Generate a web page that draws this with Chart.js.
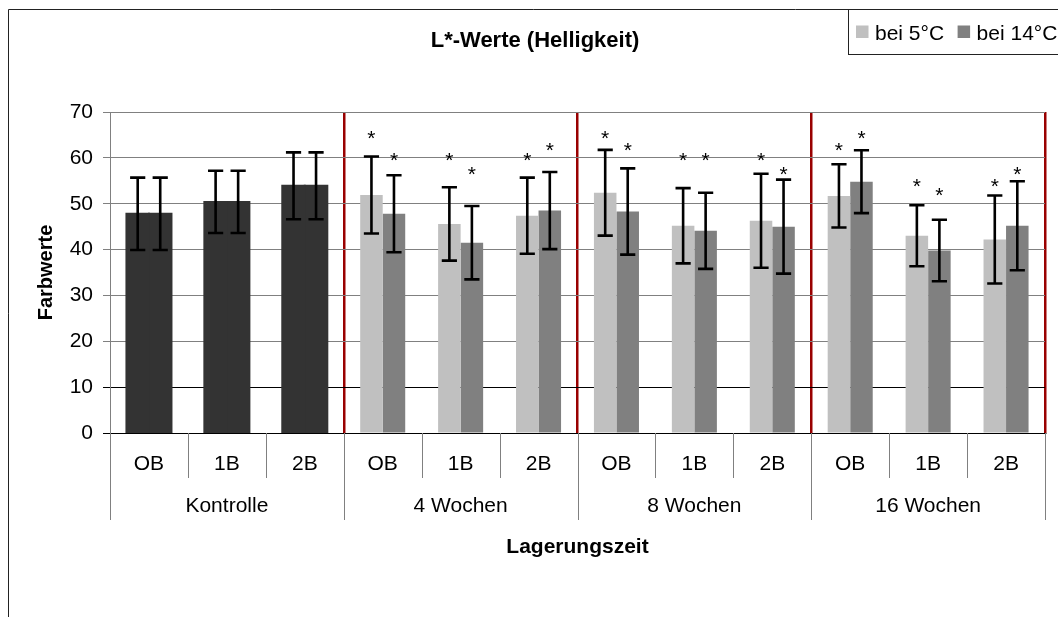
<!DOCTYPE html>
<html>
<head>
<meta charset="utf-8">
<title>L*-Werte (Helligkeit)</title>
<script src="https://cdn.jsdelivr.net/npm/chart.js@4.4.1/dist/chart.umd.min.js"></script>
<style>
  html, body { margin: 0; padding: 0; background: #fff; }
  #wrap { width: 1058px; height: 617px; position: relative; }
</style>
</head>
<body>
<div id="wrap"><canvas id="chart"></canvas></div>
<script>
// Treatments per storage period and the storage periods themselves
const categories = ['OB', '1B', '2B', 'OB', '1B', '2B', 'OB', '1B', '2B', 'OB', '1B', '2B'];
const groups = ['Kontrolle', '4 Wochen', '8 Wochen', '16 Wochen'];
const seriesNames = ['bei 5°C', 'bei 14°C'];

// Mean L* values
const values5  = [47.8, 50.4, 53.9, 51.9, 45.6, 47.4, 52.4, 45.2, 46.3, 51.7, 43.0, 42.2];
const values14 = [47.8, 50.4, 53.9, 47.8, 41.5, 48.5, 48.3, 44.1, 45.0, 54.8, 39.8, 45.2];

// Standard deviations (error bars)
const errors5  = [7.9, 6.8, 7.3, 8.4, 8.0, 8.3, 9.35, 8.2, 10.25, 6.9, 6.65, 9.6];
const errors14 = [7.9, 6.8, 7.3, 8.4, 8.0, 8.4, 9.4, 8.3, 10.25, 6.85, 6.7, 9.7];

// Height (in L* units) of the significance asterisks; null = none
const stars5  = [null, null, null, 65.4, 60.7, 60.7, 65.4, 60.7, 60.7, 62.7, 54.9, 54.9];
const stars14 = [null, null, null, 60.7, 57.6, 62.7, 62.7, 60.7, 57.6, 65.4, 52.9, 57.6];

const yTicks = [0, 10, 20, 30, 40, 50, 60, 70];

const FONT = "'Liberation Sans', Arial, sans-serif";
const COLOR_5 = '#C0C0C0';
const COLOR_14 = '#808080';
const COLOR_CONTROL = '#333333';
const GROUP_SIZE = 3;

Chart.defaults.font.family = FONT;
Chart.defaults.color = '#000';

const isControl = (i) => Math.floor(i / GROUP_SIZE) === 0;
const barColors = (base) => categories.map((_, i) => (isControl(i) ? COLOR_CONTROL : base));

// Outer frame of the chart object
const framePlugin = {
  id: 'frame',
  beforeDraw(chart) {
    const { ctx, width, height } = chart;
    ctx.save();
    ctx.fillStyle = '#fff';
    ctx.fillRect(0, 0, width, height);
    ctx.strokeStyle = '#222';
    ctx.lineWidth = 1;
    ctx.beginPath();
    ctx.moveTo(8.5, height);
    ctx.lineTo(8.5, 9.5);
    ctx.lineTo(width, 9.5);
    ctx.stroke();
    ctx.restore();
  }
};

// Error bars and significance asterisks
const errorBarPlugin = {
  id: 'errorBars',
  afterDatasetsDraw(chart) {
    const { ctx } = chart;
    const y = chart.scales.y;
    const errs = [errors5, errors14];
    const stars = [stars5, stars14];
    const cap = 7.6;
    ctx.save();
    chart.data.datasets.forEach((ds, d) => {
      const meta = chart.getDatasetMeta(d);
      meta.data.forEach((bar, i) => {
        const v = ds.data[i];
        const e = errs[d][i];
        const top = y.getPixelForValue(v + e);
        const bot = y.getPixelForValue(v - e);
        ctx.strokeStyle = '#000';
        ctx.lineWidth = 2.6;
        ctx.beginPath();
        ctx.moveTo(bar.x, top); ctx.lineTo(bar.x, bot);
        ctx.moveTo(bar.x - cap, top); ctx.lineTo(bar.x + cap, top);
        ctx.moveTo(bar.x - cap, bot); ctx.lineTo(bar.x + cap, bot);
        ctx.stroke();
        const s = stars[d][i];
        if (s !== null) {
          ctx.fillStyle = '#000';
          ctx.font = '21px ' + FONT;
          ctx.textAlign = 'center';
          ctx.textBaseline = 'alphabetic';
          ctx.fillText('*', bar.x, y.getPixelForValue(s) + 12);
        }
      });
    });
    ctx.restore();
  }
};

// Two-level category axis, chart title and legend
const decorPlugin = {
  id: 'decor',
  afterDraw(chart) {
    const { ctx, chartArea } = chart;
    const x = chart.scales.x;
    const n = categories.length;
    const base = chartArea.bottom;
    const boundary = (k) => {
      if (k === 0) return chartArea.left;
      if (k === n) return chartArea.right;
      return (x.getPixelForValue(k - 1) + x.getPixelForValue(k)) / 2;
    };
    ctx.save();

    // separators below the axis
    ctx.strokeStyle = '#808080';
    ctx.lineWidth = 1;
    ctx.beginPath();
    for (let k = 0; k <= n; k++) {
      const bx = Math.round(boundary(k)) + 0.5;
      const len = k % GROUP_SIZE === 0 ? 87 : 45;
      ctx.moveTo(bx, base);
      ctx.lineTo(bx, base + len);
    }
    ctx.stroke();

    // category and group labels
    ctx.fillStyle = '#000';
    ctx.textAlign = 'center';
    ctx.textBaseline = 'middle';
    ctx.font = '21px ' + FONT;
    categories.forEach((c, i) => ctx.fillText(c, x.getPixelForValue(i), base + 31));
    groups.forEach((g, gi) => {
      const cx = (boundary(gi * GROUP_SIZE) + boundary((gi + 1) * GROUP_SIZE)) / 2;
      ctx.fillText(g, cx, base + 73);
    });

    // title
    ctx.font = 'bold 22px ' + FONT;
    ctx.fillText('L*-Werte (Helligkeit)', 535, 40.6);

    // legend
    ctx.strokeStyle = '#222';
    ctx.lineWidth = 1;
    ctx.strokeRect(848.5, 9.5, 240, 45);
    ctx.font = '21px ' + FONT;
    ctx.textAlign = 'left';
    ctx.textBaseline = 'alphabetic';
    const legendColors = [COLOR_5, COLOR_14];
    let lx = 856;
    seriesNames.forEach((name, i) => {
      ctx.fillStyle = legendColors[i];
      ctx.fillRect(lx, 25.5, 12.5, 12.5);
      ctx.fillStyle = '#000';
      ctx.fillText(name, lx + 19, 39.5);
      lx += 19 + ctx.measureText(name).width + 13.5;
    });

    ctx.restore();
  }
};

new Chart(document.getElementById('chart'), {
  type: 'bar',
  data: {
    labels: categories,
    datasets: [
      { label: seriesNames[0], data: values5, backgroundColor: barColors(COLOR_5), borderWidth: 0 },
      { label: seriesNames[1], data: values14, backgroundColor: barColors(COLOR_14), borderWidth: 0 }
    ]
  },
  options: {
    responsive: true,
    maintainAspectRatio: false,
    animation: false,
    events: [],
    layout: { padding: { top: 112, right: 13, left: 0, bottom: 0 } },
    categoryPercentage: 0.578,
    barPercentage: 1.0,
    datasets: {
      bar: {
        // the paired control bars close up into one solid block
        inflateAmount: (c) => (isControl(c.dataIndex) ? 1 : 'auto')
      }
    },
    plugins: {
      legend: { display: false },
      title: { display: false },
      tooltip: { enabled: false }
    },
    scales: {
      x: {
        type: 'category',
        offset: true,
        ticks: { display: false },
        grid: {
          offset: true,
          drawTicks: false,
          color: (c) => {
            const i = c.index === undefined ? categories.length : c.index;
            return i > 0 && i % GROUP_SIZE === 0 ? '#990000' : 'rgba(0,0,0,0)';
          },
          lineWidth: 2.5
        },
        border: { display: true, color: '#000', width: 1 },
        title: {
          display: true,
          text: 'Lagerungszeit',
          font: { size: 21, weight: 'bold' },
          color: '#000',
          padding: { top: 0, bottom: 57 }
        },
        afterFit: (s) => { s.height = 184; }
      },
      y: {
        min: 0,
        max: 70,
        afterBuildTicks: (s) => { s.ticks = yTicks.map((v) => ({ value: v })); },
        ticks: { font: { size: 21 }, color: '#000', padding: 10 },
        grid: {
          color: (c) => (c.tick && (c.tick.value === 0 || c.tick.value === 10) ? '#000' : '#808080'),
          lineWidth: 1,
          tickLength: 7
        },
        border: { display: true, color: '#808080', width: 1 },
        title: {
          display: true,
          text: 'Farbwerte',
          font: { size: 20, weight: 'bold' },
          color: '#000',
          padding: { top: 34, bottom: 0 }
        },
        afterFit: (s) => { s.width = 110; }
      }
    }
  },
  plugins: [framePlugin, errorBarPlugin, decorPlugin]
});
</script>
</body>
</html>
